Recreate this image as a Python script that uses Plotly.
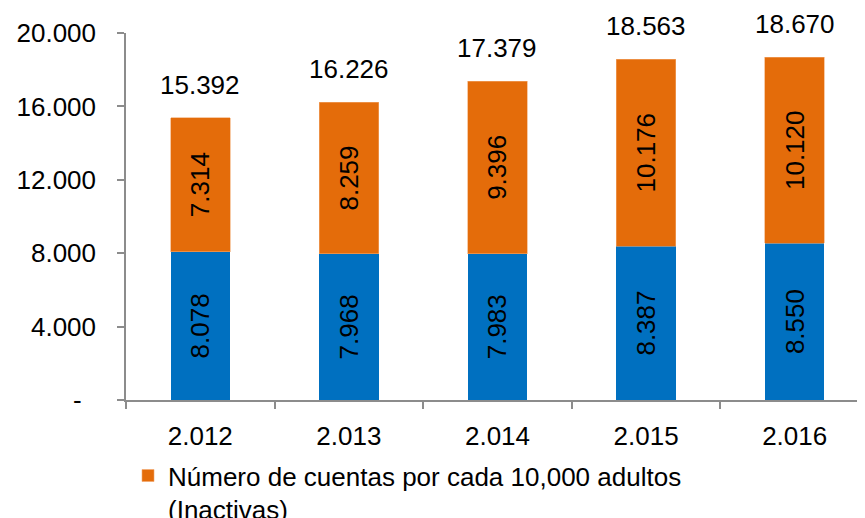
import plotly.graph_objects as go

years = ["2.012", "2.013", "2.014", "2.015", "2.016"]
activas = [8078, 7968, 7983, 8387, 8550]
inactivas = [7314, 8259, 9396, 10176, 10120]
totales = [15392, 16226, 17379, 18563, 18670]
ytick_vals = [0, 4000, 8000, 12000, 16000, 20000]
ytick_text = ["-\u00a0\u00a0", "4.000", "8.000", "12.000", "16.000", "20.000"]

def fmt(v):
    return f"{v:,}".replace(",", ".")

FONT = "Liberation Sans, Arial, sans-serif"
FS = 26
BLUE = "#0070C0"
ORANGE = "#E46C0A"
AXIS = "#8C8C8C"

fig = go.Figure()
fig.add_trace(go.Bar(
    x=years, y=activas, name="Número de cuentas por cada 10,000 adultos (Activas)",
    marker=dict(color=BLUE, line=dict(width=0)),
    text=[fmt(v) for v in activas], textposition="inside", insidetextanchor="middle",
    textangle=-90, insidetextfont=dict(color="black", size=FS, family=FONT),
    showlegend=False, width=0.4,
))
fig.add_trace(go.Bar(
    x=years, y=inactivas, name="Número de cuentas por cada 10,000 adultos<br>(Inactivas)",
    marker=dict(color=ORANGE, line=dict(width=0.6, color="#F2A66B")),
    text=[fmt(v) for v in inactivas], textposition="inside", insidetextanchor="middle",
    textangle=-90, insidetextfont=dict(color="black", size=FS, family=FONT),
    showlegend=True, width=0.4,
))

for i, t in enumerate(totales):
    fig.add_annotation(x=i, y=t, xref="x", yref="y", text=fmt(t), showarrow=False,
                       yanchor="bottom", yshift=16,
                       font=dict(size=FS, color="black", family=FONT))

fig.update_layout(
    barmode="stack",
    width=865, height=518,
    margin=dict(l=118, r=0, t=25, b=126, autoexpand=False),
    plot_bgcolor="white", paper_bgcolor="white",
    font=dict(family=FONT, size=FS, color="black"),
    showlegend=True,
    legend=dict(x=0.0027, y=-0.142, xanchor="left", yanchor="top", valign="top",
                font=dict(size=FS, color="black", family=FONT),
                bgcolor="rgba(0,0,0,0)", tracegroupgap=0),
    xaxis=dict(type="category", range=[-0.5, 4.527], showline=True, linecolor=AXIS,
               linewidth=1.5, ticks="outside", ticklen=7, tickcolor=AXIS, tickwidth=1.5,
               tickson="boundaries", showgrid=False, zeroline=False, automargin=False,
               ticklabelstandoff=12,
               tickfont=dict(size=FS, color="black", family=FONT)),
    yaxis=dict(range=[0, 20000], tickvals=ytick_vals, ticktext=ytick_text,
               showline=True, linecolor=AXIS, linewidth=1.5, ticks="outside",
               ticklen=7, tickcolor=AXIS, tickwidth=1.5, showgrid=False,
               zeroline=False, ticklabelstandoff=16, automargin=False,
               tickfont=dict(size=FS, color="black", family=FONT)),
)

fig.write_html("out.html")
